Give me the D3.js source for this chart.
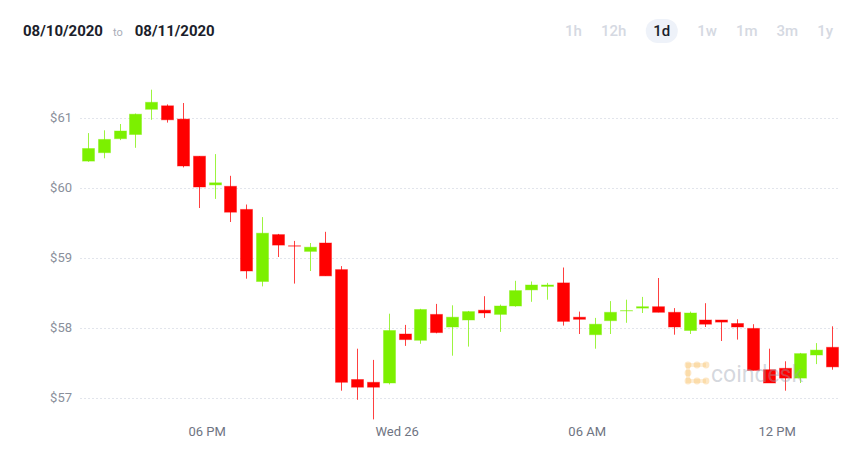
<!DOCTYPE html>
<html>
<head>
<meta charset="utf-8">
<script src="https://cdn.jsdelivr.net/npm/d3@7"></script>
<style>
  body { margin: 0; background: #fff; font-family: Roboto, "Noto Sans", sans-serif; }
  svg { display: block; }
</style>
</head>
<body>
<div id="chart"></div>
<script>
  'use strict';

  // candle data, 30 minute candles from Tue 25 14:00
  var startTime = new Date(2020, 7, 25, 14, 0);
  var endTime = new Date(2020, 7, 26, 14, 0);
  var open  = [60.38, 60.50, 60.70, 60.76, 61.12, 61.17, 60.98, 60.45, 60.04, 60.02,
               59.69, 58.66, 59.33, 59.17, 59.09, 59.21, 58.83, 57.26, 57.22, 57.21,
               57.91, 57.82, 58.19, 58.01, 58.11, 58.25, 58.19, 58.31, 58.54, 58.59,
               58.64, 58.15, 57.90, 58.10, 58.240, 58.28, 58.30, 58.22, 57.96, 58.11,
               58.11, 58.06, 57.99, 57.40, 57.42, 57.28, 57.61, 57.72];
  var high  = [60.78, 60.82, 60.91, 61.06, 61.40, 61.19, 61.21, 60.45, 60.48, 60.17,
               59.76, 59.58, 59.34, 59.24, 59.21, 59.37, 58.88, 57.70, 57.54, 58.20,
               58.04, 58.27, 58.34, 58.32, 58.24, 58.45, 58.33, 58.67, 58.66, 58.64,
               58.86, 58.23, 58.14, 58.38, 58.40, 58.44, 58.71, 58.28, 58.23, 58.35,
               58.11, 58.12, 58.05, 57.70, 57.52, 57.64, 57.78, 58.02];
  var low   = [60.37, 60.42, 60.68, 60.57, 60.97, 60.93, 60.29, 59.71, 59.84, 59.51,
               58.70, 58.59, 59.01, 58.63, 58.81, 58.74, 57.10, 56.97, 56.69, 57.19,
               57.74, 57.77, 57.92, 57.60, 57.73, 58.14, 57.94, 58.30, 58.37, 58.40,
               58.03, 57.91, 57.70, 57.91, 58.07, 58.21, 58.22, 57.90, 57.91, 58.01,
               57.81, 57.83, 57.39, 57.21, 57.10, 57.21, 57.48, 57.40];
  var close = [60.56, 60.69, 60.81, 61.05, 61.22, 60.97, 60.31, 60.01, 60.07, 59.65,
               58.81, 59.35, 59.18, 59.165, 59.15, 58.74, 57.22, 57.15, 57.15, 57.96,
               57.83, 58.26, 57.93, 58.15, 58.23, 58.21, 58.31, 58.53, 58.61, 58.61,
               58.09, 58.12, 58.05, 58.22, 58.245, 58.30, 58.22, 58.01, 58.21, 58.05,
               58.08, 58.01, 57.39, 57.21, 57.28, 57.63, 57.68, 57.44];

  var priceTicks = [57, 58, 59, 60, 61];
  var timeTicks = [new Date(2020, 7, 25, 18), new Date(2020, 7, 26, 0),
                   new Date(2020, 7, 26, 6), new Date(2020, 7, 26, 12)];
  var timeLabels = ['06 PM', 'Wed 26', '06 AM', '12 PM'];
  var ranges = ['1h', '12h', '1d', '1w', '1m', '3m', '1y'];
  var activeRange = '1d';

  var width = 864, height = 452;
  var green = '#7cf000', red = '#ff0000';

  var svg = d3.select('#chart').append('svg')
      .attr('width', width).attr('height', height);

  // header
  var header = svg.append('text').attr('x', 23).attr('y', 36)
      .style('font-size', '15px').style('font-weight', 700).attr('fill', '#1b1e2b');
  header.append('tspan').text('08/10/2020');
  header.append('tspan').attr('dx', 10).style('font-size', '11px').style('font-weight', 400)
      .attr('fill', '#a9adb8').text('to');
  header.append('tspan').attr('dx', 12).text('08/11/2020');

  // range buttons, laid out right to left
  var btnG = svg.append('g');
  var btn = btnG.selectAll('g').data(ranges).enter().append('g');
  btn.append('text')
      .attr('text-anchor', 'middle').attr('dy', '0.36em')
      .style('font-size', '15px').style('font-weight', 500)
      .attr('fill', function (d) { return d === activeRange ? '#1b1e2b' : '#d5d9e2'; })
      .text(function (d) { return d; });
  var right = 833;
  var pos = {};
  ranges.slice().reverse().forEach(function (r) {
    var w = btn.filter(function (d) { return d === r; }).select('text').node().getComputedTextLength();
    var pad = r === activeRange ? 8 : 0;
    right -= pad;
    pos[r] = right - w / 2;
    right -= w + pad + 19;
  });
  btn.attr('transform', function (d) { return 'translate(' + pos[d] + ',31)'; });
  btn.filter(function (d) { return d === activeRange; }).insert('rect', 'text')
      .attr('x', -16).attr('y', -12).attr('width', 32).attr('height', 24).attr('rx', 12)
      .attr('fill', '#eef2f9');

  var x = d3.scaleTime().domain([startTime, endTime]).range([80, 840]);
  var y = d3.scaleLinear().domain([57, 61]).range([397.7, 117.7]);

  // grid
  svg.append('g').selectAll('line').data(priceTicks).enter().append('line')
      .attr('x1', 80).attr('x2', 838)
      .attr('y1', function (d) { return Math.round(y(d)) + 0.5; })
      .attr('y2', function (d) { return Math.round(y(d)) + 0.5; })
      .attr('stroke', '#e2e5ec').attr('stroke-dasharray', '2,2');

  var yAxis = svg.append('g').attr('transform', 'translate(72,0)')
      .call(d3.axisLeft(y).tickValues(priceTicks).tickSize(0).tickPadding(0)
        .tickFormat(function (d) { return '$' + d; }));
  yAxis.select('.domain').remove();
  yAxis.selectAll('text').attr('fill', '#8a8f9b').style('font-size', '13px')
      .style('font-family', 'Roboto, sans-serif');

  var xAxis = svg.append('g').attr('transform', 'translate(0,427)')
      .call(d3.axisBottom(x).tickValues(timeTicks).tickSize(0).tickPadding(0)
        .tickFormat(function (d, i) { return timeLabels[i]; }));
  xAxis.select('.domain').remove();
  xAxis.selectAll('text').attr('fill', '#6f7482').style('font-size', '13px')
      .style('font-family', 'Roboto, sans-serif');

  // candles
  var candles = d3.range(open.length).map(function (i) {
    return {
      t: new Date(startTime.getTime() + i * 30 * 60000 + 15 * 60000),
      o: open[i], h: high[i], l: low[i], c: close[i]
    };
  });
  var bodyW = 12;
  var g = svg.append('g').selectAll('g').data(candles).enter().append('g');
  function col(d) { return d.c > d.o ? green : red; }

  g.append('line')
      .attr('x1', function (d) { return Math.round(x(d.t)) + 0.5; })
      .attr('x2', function (d) { return Math.round(x(d.t)) + 0.5; })
      .attr('y1', function (d) { return y(d.h); })
      .attr('y2', function (d) { return y(d.l); })
      .attr('stroke', col).attr('stroke-opacity', 0.75);

  g.append('rect')
      .attr('x', function (d) { return Math.round(x(d.t)) + 0.5 - bodyW / 2; })
      .attr('y', function (d) { return y(Math.max(d.o, d.c)); })
      .attr('width', bodyW)
      .attr('height', function (d) { return Math.abs(y(d.o) - y(d.c)); })
      .attr('fill', col)
      .attr('stroke', col).attr('stroke-opacity', 0.4);

  // watermark, drawn over the candles
  var wm = svg.append('g').attr('transform', 'translate(685,362)');
  var dots = [[0, 0], [1, 0], [2, 0], [0, 1], [0, 2], [1, 2], [2, 2]];
  wm.append('path')
      .attr('d', 'M21,3 H3 V19 H21')
      .attr('fill', 'none').attr('stroke', '#f7b140').attr('stroke-opacity', 0.2)
      .attr('stroke-width', 4);
  wm.selectAll('circle').data(dots).enter().append('circle')
      .attr('cx', function (d) { return 3 + d[0] * 9; })
      .attr('cy', function (d) { return 3 + d[1] * 8; })
      .attr('r', 3.4).attr('fill', '#f7b140').attr('fill-opacity', 0.3);
  wm.append('text').attr('x', 26).attr('y', 20)
      .style('font-size', '23px').style('font-weight', 400)
      .attr('fill', '#9aa1ae').attr('fill-opacity', 0.42)
      .text('coindesk');
</script>
</body>
</html>
